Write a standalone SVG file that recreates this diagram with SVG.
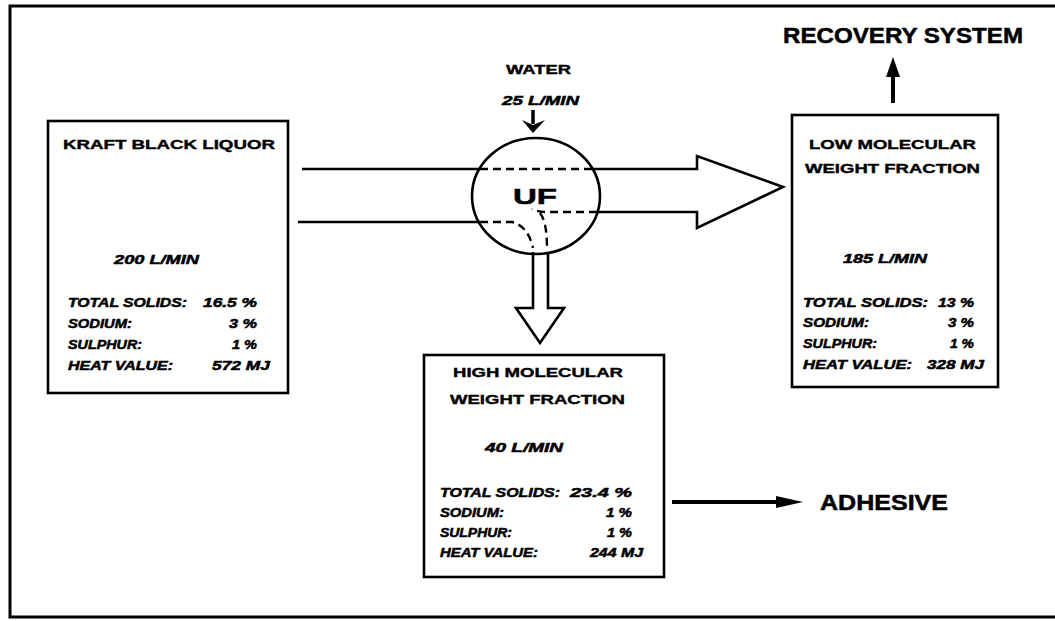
<svg xmlns="http://www.w3.org/2000/svg" width="1055" height="621" viewBox="0 0 1055 621">
<style>
.box{fill:#fff;stroke:#000;stroke-width:2.6}
.ttl{font-family:"Liberation Sans",Arial,sans-serif;font-weight:bold;font-size:13.5px;fill:#000;stroke:#000;stroke-width:0.4}
.big{font-family:"Liberation Sans",Arial,sans-serif;font-weight:bold;font-size:22px;fill:#000;stroke:#000;stroke-width:0.5}
.dat{font-family:"Liberation Sans",Arial,sans-serif;font-weight:bold;font-style:italic;font-size:12.5px;fill:#000;stroke:#000;stroke-width:0.5}
.ln{fill:none;stroke:#000;stroke-width:2.6}
.dash{fill:none;stroke:#000;stroke-width:2.4;stroke-dasharray:8 5}
</style>
<rect x="0" y="0" width="1055" height="621" fill="#fff"/>
<rect x="10" y="6" width="1052" height="611" fill="none" stroke="#000" stroke-width="3"/>

<g id="connectors">
  <line class="ln" x1="302" y1="169" x2="480" y2="169"/>
  <line class="ln" x1="298" y1="222" x2="480" y2="222"/>
  <line class="dash" x1="480" y1="169" x2="593" y2="169"/>
  <path class="dash" d="M480,222 H512 Q528,226 533,248"/>
  <path class="dash" d="M597,212 H545 Q538,212 532,209 M540,213 Q547,222 547,248"/>
  <path class="ln" d="M593,169 H697 V156 L783,187 L697,228 V212 H598"/>
  <path class="ln" d="M533,252 V308 H516 L540,343 L564,308 H548 V252"/>
  <line x1="533" y1="110" x2="533" y2="124" stroke="#000" stroke-width="3.5"/>
  <path d="M522,120 L533,133 L545,120 L533,125 Z" fill="#000"/>
  <line x1="893" y1="103" x2="893" y2="72" stroke="#000" stroke-width="4"/>
  <path d="M886,77 L893,57 L900,77 Z" fill="#000"/>
  <line x1="672" y1="502" x2="780" y2="502" stroke="#000" stroke-width="4"/>
  <path d="M776,496 L803,502 L776,508 Z" fill="#000"/>
</g>

<g id="uf">
  <ellipse cx="536" cy="196" rx="64" ry="58" fill="none" stroke="#000" stroke-width="2.6"/>
  <text class="big" x="513" y="204" font-size="23" textLength="44" lengthAdjust="spacingAndGlyphs">UF</text>
</g>

<g id="water">
  <text class="ttl" x="506" y="74" font-size="12" textLength="65" lengthAdjust="spacingAndGlyphs">WATER</text>
  <text class="dat" x="502" y="105" font-size="12" textLength="77" lengthAdjust="spacingAndGlyphs">25 L/MIN</text>
</g>

<g id="kraft">
  <rect class="box" x="48" y="121" width="240" height="272"/>
  <text class="ttl" x="63" y="149" textLength="212" lengthAdjust="spacingAndGlyphs">KRAFT BLACK LIQUOR</text>
  <text class="dat" x="114" y="264" textLength="85" lengthAdjust="spacingAndGlyphs">200 L/MIN</text>
  <text class="dat" x="68" y="307" textLength="119" lengthAdjust="spacingAndGlyphs">TOTAL SOLIDS:</text>
  <text class="dat" x="203" y="307" textLength="54" lengthAdjust="spacingAndGlyphs">16.5 %</text>
  <text class="dat" x="68" y="328" textLength="64" lengthAdjust="spacingAndGlyphs">SODIUM:</text>
  <text class="dat" x="229" y="328" textLength="28" lengthAdjust="spacingAndGlyphs">3 %</text>
  <text class="dat" x="68" y="349" textLength="74" lengthAdjust="spacingAndGlyphs">SULPHUR:</text>
  <text class="dat" x="232" y="349" textLength="25" lengthAdjust="spacingAndGlyphs">1 %</text>
  <text class="dat" x="68" y="370" textLength="105" lengthAdjust="spacingAndGlyphs">HEAT VALUE:</text>
  <text class="dat" x="212" y="370" textLength="58" lengthAdjust="spacingAndGlyphs">572 MJ</text>
</g>

<g id="recovery">
  <text class="big" x="783" y="43" textLength="240" lengthAdjust="spacingAndGlyphs">RECOVERY SYSTEM</text>
</g>

<g id="low">
  <rect class="box" x="792" y="115" width="206" height="272"/>
  <text class="ttl" x="809" y="149" textLength="167" lengthAdjust="spacingAndGlyphs">LOW MOLECULAR</text>
  <text class="ttl" x="805" y="173" textLength="175" lengthAdjust="spacingAndGlyphs">WEIGHT FRACTION</text>
  <text class="dat" x="843" y="263" textLength="84" lengthAdjust="spacingAndGlyphs">185 L/MIN</text>
  <text class="dat" x="803" y="307" textLength="125" lengthAdjust="spacingAndGlyphs">TOTAL SOLIDS:</text>
  <text class="dat" x="938" y="307" textLength="36" lengthAdjust="spacingAndGlyphs">13 %</text>
  <text class="dat" x="803" y="327" textLength="66" lengthAdjust="spacingAndGlyphs">SODIUM:</text>
  <text class="dat" x="948" y="327" textLength="26" lengthAdjust="spacingAndGlyphs">3 %</text>
  <text class="dat" x="803" y="348" textLength="74" lengthAdjust="spacingAndGlyphs">SULPHUR:</text>
  <text class="dat" x="950" y="348" textLength="24" lengthAdjust="spacingAndGlyphs">1 %</text>
  <text class="dat" x="803" y="369" textLength="109" lengthAdjust="spacingAndGlyphs">HEAT VALUE:</text>
  <text class="dat" x="927" y="369" textLength="57" lengthAdjust="spacingAndGlyphs">328 MJ</text>
</g>

<g id="high">
  <rect class="box" x="424" y="355" width="240" height="222"/>
  <text class="ttl" x="453" y="377" textLength="170" lengthAdjust="spacingAndGlyphs">HIGH MOLECULAR</text>
  <text class="ttl" x="450" y="404" textLength="175" lengthAdjust="spacingAndGlyphs">WEIGHT FRACTION</text>
  <text class="dat" x="485" y="452" textLength="78" lengthAdjust="spacingAndGlyphs">40 L/MIN</text>
  <text class="dat" x="440" y="497" textLength="120" lengthAdjust="spacingAndGlyphs">TOTAL SOLIDS:</text>
  <text class="dat" x="570" y="497" textLength="62" lengthAdjust="spacingAndGlyphs">23.4 %</text>
  <text class="dat" x="440" y="517" textLength="64" lengthAdjust="spacingAndGlyphs">SODIUM:</text>
  <text class="dat" x="606" y="517" textLength="26" lengthAdjust="spacingAndGlyphs">1 %</text>
  <text class="dat" x="440" y="537" textLength="72" lengthAdjust="spacingAndGlyphs">SULPHUR:</text>
  <text class="dat" x="607" y="537" textLength="25" lengthAdjust="spacingAndGlyphs">1 %</text>
  <text class="dat" x="440" y="557" textLength="98" lengthAdjust="spacingAndGlyphs">HEAT VALUE:</text>
  <text class="dat" x="590" y="557" textLength="53" lengthAdjust="spacingAndGlyphs">244 MJ</text>
</g>

<g id="adhesive">
  <text class="big" x="820" y="510" font-size="21" textLength="128" lengthAdjust="spacingAndGlyphs">ADHESIVE</text>
</g>
</svg>
